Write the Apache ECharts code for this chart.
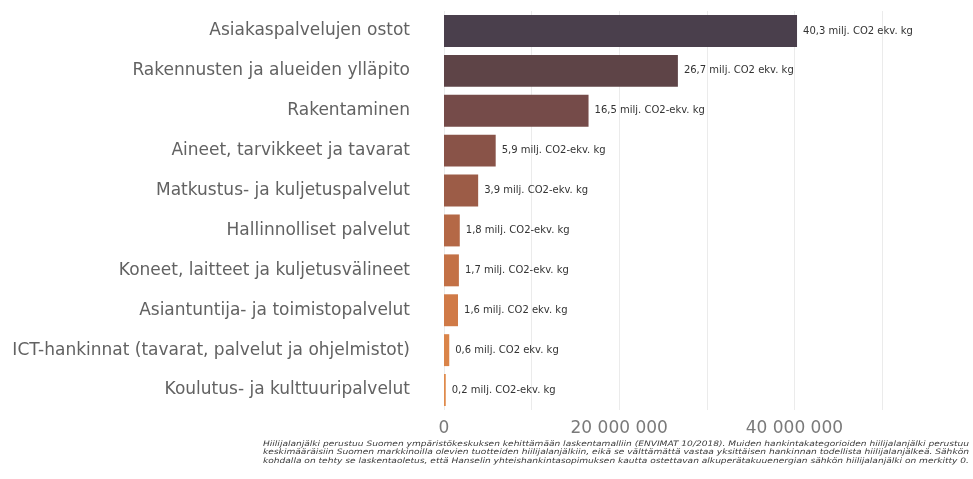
<!DOCTYPE html>
<html>
<head>
<meta charset="utf-8">
<script src="https://cdn.jsdelivr.net/npm/echarts@6/dist/echarts.min.js"></script>
<style>html,body{margin:0;padding:0;background:#fff}#c{width:973px;height:479px}</style>
</head>
<body>
<div id="c"></div>
<script>
const categories = [
  'Asiakaspalvelujen ostot',
  'Rakennusten ja alueiden ylläpito',
  'Rakentaminen',
  'Aineet, tarvikkeet ja tavarat',
  'Matkustus- ja kuljetuspalvelut',
  'Hallinnolliset palvelut',
  'Koneet, laitteet ja kuljetusvälineet',
  'Asiantuntija- ja toimistopalvelut',
  'ICT-hankinnat (tavarat, palvelut ja ohjelmistot)',
  'Koulutus- ja kulttuuripalvelut'
];
const values = [40300000, 26700000, 16500000, 5900000, 3900000, 1800000, 1700000, 1600000, 600000, 200000];
const barLabels = [
  '40,3 milj. CO2 ekv. kg',
  '26,7 milj. CO2 ekv. kg',
  '16,5 milj. CO2-ekv. kg',
  '5,9 milj. CO2-ekv. kg',
  '3,9 milj. CO2-ekv. kg',
  '1,8 milj. CO2-ekv. kg',
  '1,7 milj. CO2-ekv. kg',
  '1,6 milj. CO2 ekv. kg',
  '0,6 milj. CO2 ekv. kg',
  '0,2 milj. CO2-ekv. kg'
];
const colors = ['#4a3f4c', '#5e4447', '#754b49', '#895348', '#9c5c47', '#b46846', '#c37146', '#d07a47', '#da8449', '#df8a4b'];
const footnote = [
  'Hiilijalanjälki perustuu Suomen ympäristökeskuksen kehittämään laskentamalliin (ENVIMAT 10/2018). Muiden hankintakategorioiden hiilijalanjälki perustuu',
  'keskimääräisiin Suomen markkinoilla olevien tuotteiden hiilijalanjälkiin, eikä se välttämättä vastaa yksittäisen hankinnan todellista hiilijalanjälkeä. Sähkön',
  'kohdalla on tehty se laskentaoletus, että Hanselin yhteishankintasopimuksen kautta ostettavan alkuperätakuuenergian sähkön hiilijalanjälki on merkitty 0.'
];

const FN_FONT = 'italic 7.5px "DejaVu Sans"';
const ctx = document.createElement('canvas').getContext('2d');
ctx.font = FN_FONT;
const FN_WIDTH = 706;

const chart = echarts.init(document.getElementById('c'));
chart.setOption({
  backgroundColor: '#fff',
  animation: false,
  grid: { left: 444, right: 91, top: 11, bottom: 69, containLabel: false },
  xAxis: {
    type: 'value', min: 0, max: 50000000, interval: 10000000,
    axisLine: { show: false }, axisTick: { show: false },
    splitLine: { show: true, lineStyle: { color: '#ebebeb', width: 1 } },
    axisLabel: {
      margin: 10, fontSize: 17, color: '#7a7a7a', fontFamily: 'DejaVu Sans',
      formatter: v => (v % 20000000 === 0) ? String(v).replace(/\B(?=(\d{3})+(?!\d))/g, ' ') : ''
    }
  },
  yAxis: {
    type: 'category', data: categories, inverse: true,
    axisLine: { show: false }, axisTick: { show: false },
    axisLabel: { margin: 34, fontSize: 17, color: '#626262', fontFamily: 'DejaVu Sans' }
  },
  series: [{
    type: 'bar', data: values.map((v, i) => ({ value: v, itemStyle: { color: colors[i] } })),
    barCategoryGap: '20%',
    label: {
      show: true, position: 'right', distance: 6, fontSize: 10, color: '#333',
      fontFamily: 'DejaVu Sans', formatter: p => barLabels[p.dataIndex]
    }
  }],
  graphic: footnote.map((t, i) => ({
    type: 'text', x: 969, y: 444 + i * 8.5, originX: 0, originY: 0,
    scaleX: FN_WIDTH / ctx.measureText(t).width,
    style: { text: t, fontSize: 7.5, fontStyle: 'italic', fill: '#3a3a3a', fontFamily: 'DejaVu Sans',
             textAlign: 'right', textVerticalAlign: 'middle' }
  }))
});
</script>
</body>
</html>
